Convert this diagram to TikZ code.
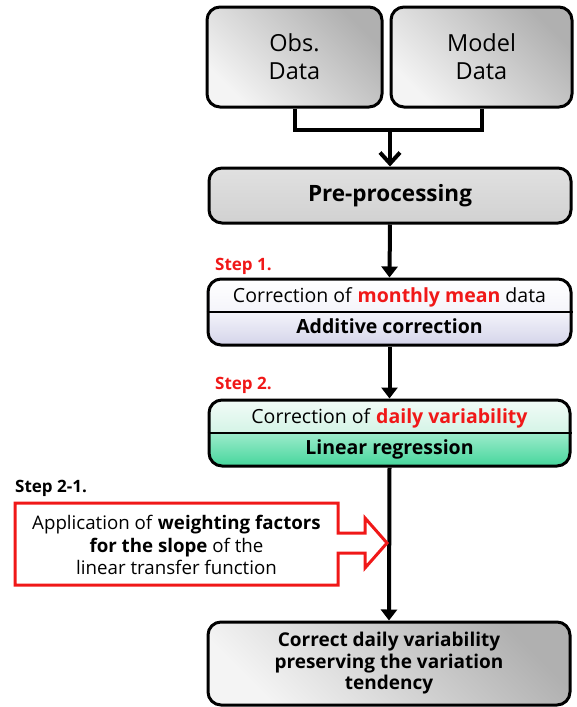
\documentclass[tikz,border=0pt]{standalone}
\usepackage{fontspec}
\setmainfont{Open Sans}
\usetikzlibrary{arrows.meta}
\definecolor{stepred}{HTML}{F01818}
\definecolor{boxlight}{HTML}{F4F4F4}
\definecolor{boxdark}{HTML}{B0B0B0}
\definecolor{lavtop}{HTML}{F4F4FA}
\definecolor{lavbot}{HTML}{D4D4EA}
\definecolor{mintpale}{HTML}{F2FBF7}
\definecolor{mintlight}{HTML}{D4F4E6}
\definecolor{minttop}{HTML}{9CEBCB}
\definecolor{mintbot}{HTML}{46D69C}
\tikzset{
  flowbox/.style={draw=black, line width=3pt, rounded corners=13pt, inner sep=0pt},
  graybox/.style={flowbox, left color=boxlight, right color=boxdark, shading angle=135},
  boxtext/.style={font=\fontsize{23.5}{28}\selectfont, align=center, inner sep=0pt},
  steplabel/.style={font=\fontsize{17}{20}\selectfont\bfseries, text=stepred, anchor=west, inner sep=0pt},
  flowline/.style={line width=4pt},
  flowarrow/.style={line width=4pt, -{Triangle[length=11pt,width=16pt]}},
  barbarrow/.style={line width=4pt, -{Straight Barb[length=11pt,width=20pt,line width=4pt]}},
  midtext/.style={font=\fontsize{19.5}{23}\selectfont, inner sep=0pt},
}
\begin{document}
\begin{tikzpicture}[x=1pt, y=-1pt]
\useasboundingbox (0,0) rectangle (577,707);

% input data boxes
\node[graybox, minimum width=175pt, minimum height=100pt] (obs) at (294.5,57) {};
\node[boxtext] (obst) at (obs.center) {Obs.\\Data};
\node[graybox, minimum width=181pt, minimum height=100pt] (model) at (481.5,57) {};
\node[boxtext] (modelt) at (model.center) {Model\\Data};

% pre-processing
\node[flowbox, top color=black!12, bottom color=black!18, minimum width=362pt, minimum height=55pt] (pre) at (390,195.5) {};
\node[boxtext, font=\fontsize{22.5}{26}\selectfont\bfseries] (pret) at (pre.center) {Pre-processing};

\coordinate (join) at (390,130);
\draw[flowline] (obs.south) |- (join) -| (model.south);
\draw[barbarrow] (join) -- (pre.north);

% step 1 box: two shaded halves inside a rounded frame
\begin{scope}
  \clip[rounded corners=13pt] (208,279) rectangle (571,345);
  \shade[top color=white, bottom color=lavtop] (208,279) rectangle (571,312);
  \shade[top color=lavtop, bottom color=lavbot] (208,312) rectangle (571,345);
\end{scope}
\node[flowbox, minimum width=363pt, minimum height=66pt] (s1) at (389.5,312) {};
\draw[line width=1.2pt] (s1.west) -- (s1.east);
\node[midtext] (s1t) at (389.5,297) {Correction of \textbf{\textcolor{stepred}{monthly mean}} data};
\node[midtext, font=\fontsize{19.5}{23}\selectfont\bfseries] (s1b) at (389.5,326) {Additive correction};
\node[steplabel] (lab1) at (215,266) {Step 1.};

% step 2 box
\begin{scope}
  \clip[rounded corners=13pt] (209,400) rectangle (570,466);
  \shade[top color=mintpale, bottom color=mintlight] (209,400) rectangle (570,433);
  \shade[top color=minttop, bottom color=mintbot] (209,433) rectangle (570,466);
\end{scope}
\node[flowbox, minimum width=361pt, minimum height=66pt] (s2) at (389.5,433) {};
\draw[line width=1.2pt] (s2.west) -- (s2.east);
\node[midtext] (s2t) at (389.5,418) {Correction of \textbf{\textcolor{stepred}{daily variability}}};
\node[midtext, font=\fontsize{19.5}{23}\selectfont\bfseries] (s2b) at (389.5,449) {Linear regression};
\node[steplabel] (lab2) at (215,385) {Step 2.};

\draw[flowarrow] (pre.south) -- (s1.north);
\draw[flowarrow] (s1.south) -- (s2.north);

% final result
\node[graybox, minimum width=362pt, minimum height=83pt] (res) at (389,663.5) {};
\node[boxtext, font=\fontsize{19}{21.5}\selectfont\bfseries] (rest) at (res.center) {Correct daily variability\\preserving the variation\\tendency};
\draw[flowarrow] (s2.south) -- (res.north);

% step 2-1: weighting factors pointing at the regression line
\node[steplabel, text=black] (lab21) at (15,488) {Step 2-1.};
\draw[stepred, line width=3pt, line join=miter]
  (15,503) -- (338,503) -- (338,533) -- (365,533) -- (365,518) -- (387,543)
  -- (365,568) -- (365,553) -- (338,553) -- (338,585) -- (15,585) -- cycle;
\node[midtext, align=center, font=\fontsize{18.7}{22.5}\selectfont] (app) at (176.5,545)
  {Application of \textbf{weighting factors}\\\textbf{for the slope} of the\\linear transfer function};
\end{tikzpicture}
\end{document}
